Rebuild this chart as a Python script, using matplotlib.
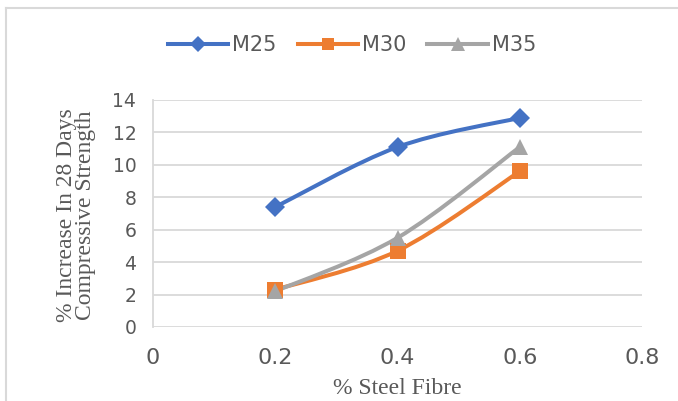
import matplotlib
matplotlib.use("Agg")
import matplotlib.pyplot as plt
import numpy as np
from matplotlib.path import Path
from matplotlib.patches import PathPatch
from matplotlib.lines import Line2D

fibre = [0.2, 0.4, 0.6]
m25 = [7.4, 11.1, 12.9]
m30 = [2.3, 4.7, 9.6]
m35 = [2.2, 5.5, 11.1]
series_names = ["M25", "M30", "M35"]
x_ticks = [0, 0.2, 0.4, 0.6, 0.8]
x_tick_labels = ["0", "0.2", "0.4", "0.6", "0.8"]
y_ticks = [0, 2, 4, 6, 8, 10, 12, 14]

colors = ["#4472C4", "#ED7D31", "#A5A5A5"]
markers = ["D", "s", "^"]
msizes = [10, 11.5, 12]

fig = plt.figure(figsize=(6.78, 4.01), dpi=100)
ax = fig.add_axes([153/678, 1-327/401, (642-153)/678, (327-100)/401])


def smooth_path(xs, ys):
    pts = np.column_stack([xs, ys]).astype(float)
    n = len(pts)
    verts = [pts[0]]
    codes = [Path.MOVETO]
    for i in range(n - 1):
        p0 = pts[i - 1] if i > 0 else pts[i]
        p1 = pts[i]
        p2 = pts[i + 1]
        p3 = pts[i + 2] if i + 2 < n else pts[i + 1]
        c1 = p1 + (p2 - p0) / 6.0
        c2 = p2 - (p3 - p1) / 6.0
        verts += [c1, c2, p2]
        codes += [Path.CURVE4] * 3
    return Path(verts, codes)


handles = []
for ys, name, c, m, ms in zip([m25, m30, m35], series_names, colors, markers, msizes):
    patch = PathPatch(smooth_path(fibre, ys), facecolor="none", edgecolor=c,
                      lw=2.9, transform=ax.transData, zorder=3, capstyle="round")
    ax.add_patch(patch)
    ax.plot(fibre, ys, linestyle="none", marker=m, color=c, markersize=ms,
            markeredgewidth=0, zorder=4)
    handles.append(Line2D([0], [0], color=c, lw=2.9, marker=m, markersize=ms * 0.8,
                          markeredgewidth=0, label=name))

ax.set_xlim(0, 0.8)
ax.set_ylim(0, 14)
ax.set_xticks(x_ticks)
ax.set_xticklabels(x_tick_labels)
ax.set_yticks(y_ticks)
ax.grid(axis="y", color="#D9D9D9", lw=1.3)
ax.set_axisbelow(True)
for s in ["top", "right", "bottom"]:
    ax.spines[s].set_visible(False)
ax.spines["left"].set_color("#D9D9D9")
ax.spines["left"].set_linewidth(1.3)
ax.tick_params(length=0, colors="#595959")
ax.tick_params(axis="y", labelsize=13.5, pad=12)
ax.tick_params(axis="x", labelsize=16, pad=15)

ax.set_xlabel("% Steel Fibre", family="Liberation Serif", fontsize=17, color="#595959", labelpad=7)
fig.text(76/678, 1-215/401, "% Increase In 28 Days\nCompressive Strength", rotation=90,
         ha="center", va="center", family="Liberation Serif", fontsize=17,
         color="#595959", linespacing=0.9)

leg = fig.legend(handles=handles, loc="center", bbox_to_anchor=(352/678, 1-45/401),
                 ncol=3, frameon=False, fontsize=15, handlelength=2.9,
                 columnspacing=1.0, handletextpad=0.2)
for t in leg.get_texts():
    t.set_color("#595959")

fig.add_artist(Line2D([6/678, 1], [1-8/401, 1-8/401], transform=fig.transFigure,
                      color="#D9D9D9", lw=1.5))
fig.add_artist(Line2D([6/678, 6/678], [0, 1-8/401], transform=fig.transFigure,
                      color="#D9D9D9", lw=1.5))

fig.savefig("out.png", dpi=100)
